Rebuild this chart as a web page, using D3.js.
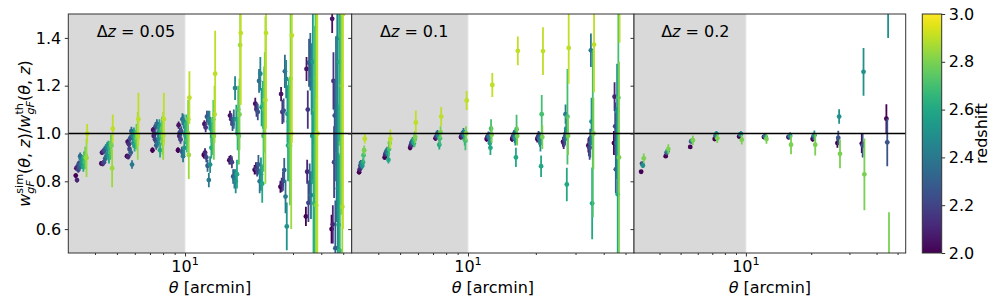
<!DOCTYPE html>
<html><head><meta charset="utf-8">
<script src="https://cdn.jsdelivr.net/npm/d3@7"></script>
<style>body{margin:0;background:#fff}</style>
</head><body>
<svg id="c" width="996" height="306"></svg>
<script>
// ---------------- DATA ----------------
const thetaBins = [3.29, 4.27, 5.54, 7.18, 9.31, 12.1, 15.7, 20.3, 26.4, 34.2, 44.4];
const panelLabels = ["0.05", "0.1", "0.2"];
const yTicks = [0.6, 0.8, 1.0, 1.2, 1.4];
const cbarTicks = [2.0, 2.2, 2.4, 2.6, 2.8, 3.0];

// Panel 1 (Δz = 0.05)
const p1Redshifts = [2.00, 2.05, 2.10, 2.15, 2.20, 2.25, 2.30, 2.35, 2.40, 2.45, 2.50, 2.55, 2.60, 2.65, 2.70, 2.75, 2.80, 2.85, 2.90];
const p1Values = [
  [0.824, 0.875, 0.905, 0.930, 0.930, 0.910, 0.888, 0.848, 0.777, 0.653, 0.600],
  [0.855, 0.920, 0.965, 1.015, 1.035, 1.040, 1.075, 1.125, 1.165, 1.270, 1.480],
  [0.805, 0.873, 0.903, 0.990, 0.990, 0.920, 0.890, 0.855, 0.785, 0.840, 0.620],
  [0.862, 0.925, 0.955, 1.000, 1.005, 1.025, 1.060, 1.100, 1.090, 1.100, 1.220],
  [0.848, 0.880, 0.935, 0.975, 0.975, 0.900, 0.880, 0.850, 0.800, 0.710, 0.880],
  [0.875, 0.930, 0.980, 1.030, 1.010, 1.070, 1.040, 1.090, 1.096, 1.296, 1.075],
  [0.860, 0.895, 0.920, 0.950, 0.925, 0.865, 0.820, 0.870, 0.847, 0.794, 0.520],
  [0.905, 0.940, 1.010, 1.040, 1.060, 1.065, 1.060, 1.220, 1.260, 1.300, 1.100],
  [0.895, 0.905, 0.870, 0.960, 0.905, 0.805, 0.810, 0.800, 0.736, 0.742, 0.880],
  [0.870, 0.945, 0.990, 1.000, 1.050, 1.060, 1.190, 1.250, 1.228, 1.228, 1.400],
  [0.880, 0.915, 0.960, 0.980, 0.940, 0.870, 0.800, 0.830, 0.611, 0.990, 0.770],
  [0.890, 0.950, 1.000, 1.030, 1.000, 1.020, 1.060, 1.110, 1.082, 1.300, 0.618],
  [0.860, 0.900, 0.950, 0.930, 0.990, 0.940, 0.830, 0.790, 0.950, 0.800, 1.300],
  [0.900, 0.940, 0.985, 1.010, 1.040, 1.000, 1.000, 1.120, 1.050, 0.708, 0.510],
  [0.880, 0.920, 0.970, 0.990, 0.970, 0.970, 1.100, 0.990, 1.000, 1.100, 1.408],
  [0.910, 0.960, 1.000, 1.020, 1.000, 1.060, 0.990, 1.100, 0.950, 1.230, 0.960],
  [0.900, 0.950, 0.980, 0.970, 1.060, 0.990, 1.080, 1.140, 1.230, 0.700, 1.200],
  [0.898, 0.855, 0.990, 0.990, 0.910, 1.080, 1.370, 1.140, 1.000, 1.000, 0.694],
  [1.000, 1.020, 1.060, 1.060, 1.150, 1.250, 1.420, 1.420, 1.410, 1.000, 1.500]
];
const p1Errors = [
  [0.010, 0.010, 0.010, 0.012, 0.012, 0.015, 0.018, 0.020, 0.025, 0.040, 0.060],
  [0.010, 0.010, 0.012, 0.012, 0.015, 0.015, 0.020, 0.025, 0.030, 0.050, 0.060],
  [0.010, 0.010, 0.012, 0.015, 0.015, 0.018, 0.020, 0.025, 0.030, 0.050, 0.080],
  [0.012, 0.012, 0.015, 0.015, 0.018, 0.020, 0.025, 0.030, 0.050, 0.080, 0.120],
  [0.012, 0.012, 0.015, 0.015, 0.018, 0.020, 0.025, 0.030, 0.040, 0.080, 0.150],
  [0.012, 0.015, 0.015, 0.018, 0.020, 0.025, 0.030, 0.035, 0.050, 0.100, 0.150],
  [0.015, 0.015, 0.015, 0.018, 0.020, 0.025, 0.030, 0.040, 0.050, 0.080, 0.200],
  [0.015, 0.015, 0.018, 0.020, 0.025, 0.030, 0.040, 0.050, 0.070, 0.120, 0.300],
  [0.015, 0.018, 0.018, 0.020, 0.025, 0.030, 0.040, 0.050, 0.070, 0.100, 0.250],
  [0.018, 0.018, 0.020, 0.025, 0.030, 0.035, 0.050, 0.070, 0.080, 0.150, 0.300],
  [0.018, 0.020, 0.020, 0.025, 0.030, 0.035, 0.050, 0.070, 0.100, 0.200, 0.350],
  [0.020, 0.020, 0.025, 0.030, 0.035, 0.040, 0.060, 0.080, 0.120, 0.250, 0.300],
  [0.020, 0.025, 0.025, 0.030, 0.035, 0.045, 0.060, 0.080, 0.150, 0.300, 0.350],
  [0.025, 0.025, 0.030, 0.035, 0.040, 0.050, 0.070, 0.100, 0.180, 0.250, 0.400],
  [0.030, 0.030, 0.035, 0.040, 0.050, 0.060, 0.100, 0.150, 0.200, 0.350, 0.500],
  [0.035, 0.035, 0.040, 0.050, 0.060, 0.080, 0.120, 0.180, 0.250, 0.350, 0.300],
  [0.040, 0.045, 0.050, 0.060, 0.080, 0.100, 0.150, 0.200, 0.300, 0.450, 0.400],
  [0.080, 0.080, 0.100, 0.100, 0.100, 0.120, 0.250, 0.350, 0.400, 0.600, 0.800],
  [0.040, 0.060, 0.110, 0.110, 0.110, 0.180, 0.300, 0.400, 0.450, 0.700, 0.900]
];

// Panel 2 (Δz = 0.1)
const p2Redshifts = [2.0, 2.1, 2.2, 2.3, 2.4, 2.5, 2.6, 2.7, 2.8, 2.9];
const p2Values = [
  [0.838, 0.900, 0.940, 0.980, 0.985, 0.977, 0.977, 0.977, 0.965, 0.950, 0.960],
  [0.850, 0.912, 0.950, 0.985, 0.990, 0.985, 0.985, 0.985, 0.960, 0.945, 1.154],
  [0.865, 0.920, 0.960, 0.990, 0.995, 0.988, 0.990, 0.990, 0.975, 0.940, 1.030],
  [0.877, 0.925, 0.965, 1.000, 1.000, 0.990, 0.995, 0.980, 0.985, 0.960, 0.850],
  [0.870, 0.930, 0.970, 0.995, 1.005, 0.985, 0.985, 0.975, 1.081, 1.348, 0.960],
  [0.865, 0.915, 0.965, 0.990, 0.995, 0.960, 0.980, 0.960, 1.020, 1.050, 1.092],
  [0.880, 0.890, 0.960, 0.953, 0.975, 0.940, 0.900, 0.863, 0.787, 0.708, 0.746],
  [0.909, 0.935, 0.975, 0.980, 0.970, 1.020, 1.018, 1.081, 1.070, 1.000, 1.150],
  [0.930, 0.960, 0.985, 1.005, 1.000, 0.995, 0.990, 0.985, 0.990, 1.000, 0.900],
  [0.978, 0.977, 1.046, 1.071, 1.138, 1.203, 1.346, 1.345, 1.358, 1.372, 1.700]
];
const p2Errors = [
  [0.010, 0.010, 0.010, 0.010, 0.010, 0.012, 0.012, 0.015, 0.020, 0.030, 0.050],
  [0.010, 0.010, 0.010, 0.012, 0.012, 0.012, 0.015, 0.018, 0.025, 0.040, 0.060],
  [0.012, 0.012, 0.012, 0.012, 0.015, 0.015, 0.018, 0.020, 0.030, 0.050, 0.100],
  [0.012, 0.012, 0.012, 0.015, 0.015, 0.018, 0.020, 0.025, 0.035, 0.060, 0.100],
  [0.012, 0.015, 0.015, 0.015, 0.018, 0.020, 0.025, 0.030, 0.040, 0.070, 0.150],
  [0.015, 0.015, 0.015, 0.018, 0.020, 0.025, 0.030, 0.035, 0.050, 0.100, 0.200],
  [0.015, 0.015, 0.018, 0.020, 0.025, 0.030, 0.040, 0.045, 0.070, 0.150, 0.300],
  [0.030, 0.030, 0.030, 0.030, 0.040, 0.040, 0.060, 0.080, 0.200, 0.350, 0.400],
  [0.020, 0.020, 0.025, 0.025, 0.030, 0.035, 0.040, 0.050, 0.080, 0.150, 0.400],
  [0.020, 0.040, 0.050, 0.040, 0.040, 0.050, 0.060, 0.100, 0.150, 0.200, 0.320]
];

// Panel 3 (Δz = 0.2)
const p3Redshifts = [2.0, 2.25, 2.5, 2.8];
const p3Values = [
  [0.840, 0.905, 0.944, 0.977, 0.987, 0.985, 0.985, 0.977, 0.960, 0.958, 1.062],
  [0.874, 0.919, 0.967, 0.990, 0.995, 0.988, 0.988, 0.988, 0.982, 0.950, 0.963],
  [0.866, 0.926, 0.970, 0.998, 0.998, 0.985, 0.990, 0.993, 1.071, 1.258, 1.600],
  [0.896, 0.935, 0.972, 0.980, 0.974, 0.977, 0.953, 0.953, 0.915, 0.829, 0.450]
];
const p3Errors = [
  [0.006, 0.006, 0.006, 0.008, 0.008, 0.008, 0.010, 0.012, 0.020, 0.040, 0.060],
  [0.008, 0.008, 0.008, 0.010, 0.010, 0.010, 0.012, 0.015, 0.030, 0.050, 0.100],
  [0.010, 0.010, 0.010, 0.012, 0.012, 0.012, 0.015, 0.020, 0.030, 0.100, 0.200],
  [0.020, 0.020, 0.020, 0.020, 0.020, 0.020, 0.040, 0.045, 0.060, 0.150, 0.220]
];

// ---------------- LAYOUT ----------------
const svg = d3.select('#c');
const FONT = "'DejaVu Sans', sans-serif";
const FS = 16;
const TOP = 14, BOT = 253;
const panelBox = [[68.3, 351.7], [351.7, 634], [634, 905.7]];
const dodge = [0.0028, 0.0028, 0.004];
const xDomain = [3.05, 54.5];
const y = d3.scaleLinear().domain([0.5, 1.5]).range([BOT, TOP]);
const color = d3.scaleSequential(d3.interpolateViridis).domain([2, 3]);

const panels = [
  {z: p1Redshifts, v: p1Values, e: p1Errors},
  {z: p2Redshifts, v: p2Values, e: p2Errors},
  {z: p3Redshifts, v: p3Values, e: p3Errors}
];

// math-like text helper: parts = [{t, it, pos:'sup'|'sub', stack}]
function mathText(parent, parts, fs) {
  const g = parent.append('g');
  let cx = 0, lastStart = 0, lastW = 0;
  parts.forEach(p => {
    const size = p.pos ? fs * 0.7 : fs;
    const dy = p.pos === 'sup' ? -fs * 0.42 : (p.pos === 'sub' ? fs * 0.22 : 0);
    const startX = p.stack ? lastStart : cx;
    const t = g.append('text')
      .attr('x', startX).attr('y', dy)
      .attr('font-family', FONT).attr('font-size', size)
      .attr('font-style', p.it ? 'italic' : 'normal')
      .attr('fill', '#000')
      .style('white-space', 'pre')
      .text(p.t);
    const w = t.node().getComputedTextLength();
    if (p.stack) { cx = lastStart + Math.max(lastW, w); }
    else { lastStart = startX; lastW = w; cx = startX + w; }
  });
  return {g, width: cx};
}

panels.forEach((P, pi) => {
  const [x0, x1] = panelBox[pi];
  const x = d3.scaleLog().domain(xDomain).range([x0, x1]);
  const g = svg.append('g');
  const clipId = 'clip' + pi;
  svg.append('clipPath').attr('id', clipId).append('rect')
    .attr('x', x0).attr('y', TOP).attr('width', x1 - x0).attr('height', BOT - TOP);

  const plot = g.append('g').attr('clip-path', `url(#${clipId})`);
  plot.append('rect').attr('x', x0).attr('y', TOP)
    .attr('width', x(10) - x0).attr('height', BOT - TOP).attr('fill', '#d9d9d9');
  plot.append('line').attr('x1', x(10)).attr('x2', x(10)).attr('y1', TOP).attr('y2', BOT)
    .attr('stroke', '#e6e6e6').attr('stroke-width', 1);

  P.z.forEach((z, si) => {
    const col = color(z);
    const pts = thetaBins.map((th, k) => ({
      x: x(th * Math.pow(10, dodge[pi] * si)), v: P.v[si][k], e: P.e[si][k]
    }));
    const sg = plot.append('g');
    sg.selectAll('line').data(pts).join('line')
      .attr('x1', d => d.x).attr('x2', d => d.x)
      .attr('y1', d => y(d.v - d.e)).attr('y2', d => y(d.v + d.e))
      .attr('stroke', col).attr('stroke-width', 1.8);
    sg.selectAll('circle').data(pts).join('circle')
      .attr('cx', d => d.x).attr('cy', d => y(d.v)).attr('r', 2.4)
      .attr('fill', col);
  });

  plot.append('line').attr('x1', x0).attr('x2', x1).attr('y1', y(1)).attr('y2', y(1))
    .attr('stroke', '#000').attr('stroke-width', 1.6);

  // frame
  g.append('rect').attr('x', x0).attr('y', TOP).attr('width', x1 - x0).attr('height', BOT - TOP)
    .attr('fill', 'none').attr('stroke', '#333').attr('stroke-width', 1);

  // y axis ticks
  const ya = g.append('g').attr('transform', `translate(${x0},0)`)
    .call(d3.axisLeft(y).tickValues(yTicks).tickSize(3.5).tickPadding(3.5).tickFormat(d3.format('.1f')));
  ya.select('.domain').remove();
  ya.selectAll('line').attr('stroke', '#333');
  ya.selectAll('text').attr('font-family', FONT).attr('font-size', FS).attr('fill', '#000');
  if (pi > 0) ya.selectAll('text').remove();

  // x axis: minor ticks
  const minor = [4, 5, 6, 7, 8, 9, 20, 30, 40, 50];
  const xa = g.append('g').attr('transform', `translate(0,${BOT})`)
    .call(d3.axisBottom(x).tickValues(minor).tickSize(2).tickFormat(''));
  xa.select('.domain').remove();
  xa.selectAll('line').attr('stroke', '#333');
  const xm = g.append('g').attr('transform', `translate(0,${BOT})`)
    .call(d3.axisBottom(x).tickValues([10]).tickSize(3.5).tickFormat(''));
  xm.select('.domain').remove();
  xm.selectAll('line').attr('stroke', '#333');

  // "10^1" label
  const lab = mathText(svg, [{t: '10'}, {t: '1', pos: 'sup'}], FS);
  lab.g.attr('transform', `translate(${x(10) - lab.width / 2},${BOT + 19})`);

  // x label
  const xl = mathText(svg, [{t: 'θ', it: true}, {t: ' [arcmin]'}], FS);
  xl.g.attr('transform', `translate(${(x0 + x1) / 2 - xl.width / 2},${BOT + 40})`);

  // panel label
  const pl = mathText(svg, [{t: 'Δ'}, {t: 'z', it: true}, {t: ' = '}, {t: panelLabels[pi]}], FS);
  pl.g.attr('transform', `translate(${x0 + 0.1 * (x1 - x0)},${TOP + 23})`);
});

// y label
{
  const parts = [
    {t: 'w', it: true}, {t: 'sim', pos: 'sup'}, {t: 'gF', it: true, pos: 'sub', stack: true},
    {t: '('}, {t: 'θ', it: true}, {t: ', '}, {t: 'z', it: true}, {t: ')/'},
    {t: 'w', it: true}, {t: 'th', pos: 'sup'}, {t: 'gF', it: true, pos: 'sub', stack: true},
    {t: '('}, {t: 'θ', it: true}, {t: ', '}, {t: 'z', it: true}, {t: ')'}
  ];
  const outer = svg.append('g').attr('transform', `translate(30,${(TOP + BOT) / 2}) rotate(-90)`);
  const yl = mathText(outer, parts, FS);
  yl.g.attr('transform', `translate(${-yl.width / 2},0)`);
}

// colorbar
{
  const cx0 = 922.3, cx1 = 941.7;
  const cy = d3.scaleLinear().domain([2, 3]).range([BOT, TOP]);
  const defs = svg.append('defs');
  const grad = defs.append('linearGradient').attr('id', 'vir')
    .attr('x1', 0).attr('y1', 1).attr('x2', 0).attr('y2', 0);
  d3.range(0, 1.0001, 0.05).forEach(t => {
    grad.append('stop').attr('offset', t).attr('stop-color', d3.interpolateViridis(t));
  });
  svg.append('rect').attr('x', cx0).attr('y', TOP).attr('width', cx1 - cx0).attr('height', BOT - TOP)
    .attr('fill', 'url(#vir)').attr('stroke', '#333').attr('stroke-width', 1);
  const ca = svg.append('g').attr('transform', `translate(${cx1},0)`)
    .call(d3.axisRight(cy).tickValues(cbarTicks).tickSize(3.5).tickPadding(3.5).tickFormat(d3.format('.1f')));
  ca.select('.domain').remove();
  ca.selectAll('line').attr('stroke', '#333');
  ca.selectAll('text').attr('font-family', FONT).attr('font-size', FS).attr('fill', '#000');
  svg.append('text').attr('transform', `translate(987,${(TOP + BOT) / 2}) rotate(-90)`)
    .attr('text-anchor', 'middle').attr('font-family', FONT).attr('font-size', FS)
    .attr('fill', '#000').text('redshift');
}
</script>
</body></html>
